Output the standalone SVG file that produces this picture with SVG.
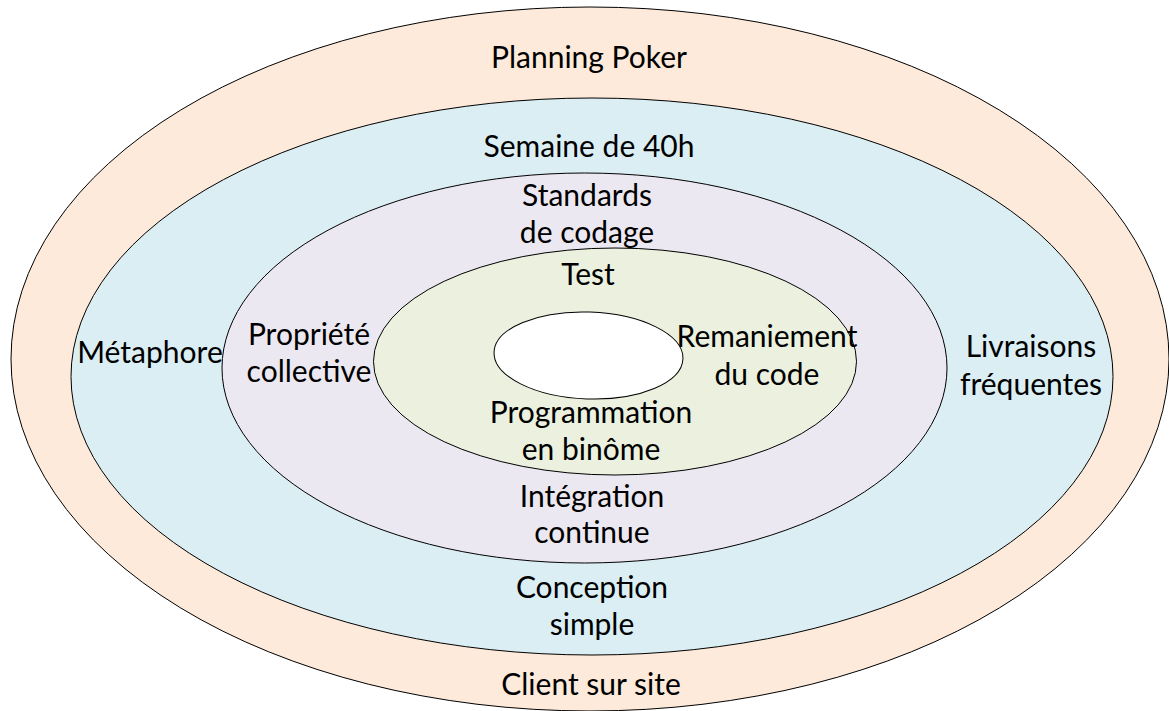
<svg xmlns="http://www.w3.org/2000/svg" width="1169" height="711" viewBox="0 0 1169 711">
  <style>
    .ring { stroke: #000; stroke-width: 1; }
    .lbl { font-family: Lato, "Open Sans", "Liberation Sans", sans-serif; font-size: 30px; fill: #000; text-anchor: middle; }
  </style>
  <rect width="1169" height="711" fill="#fff"/>

  <!-- concentric practice rings, outermost first -->
  <g id="ring-outer">
    <ellipse class="ring" cx="590" cy="359" rx="579" ry="352" fill="#FDEADA"/>
    <text class="lbl" x="589" y="68">Planning Poker</text>
    <text class="lbl" x="591" y="695">Client sur site</text>
  </g>

  <g id="ring-team">
    <ellipse class="ring" cx="592" cy="376.5" rx="521" ry="278.5" fill="#DAEEF3"/>
    <text class="lbl" x="589" y="157">Semaine de 40h</text>
    <text class="lbl" x="150" y="363">Métaphore</text>
    <text class="lbl" x="1031" y="357">Livraisons</text>
    <text class="lbl" x="1031" y="395">fréquentes</text>
    <text class="lbl" x="592" y="598">Conception</text>
    <text class="lbl" x="592" y="635">simple</text>
  </g>

  <g id="ring-code">
    <ellipse class="ring" cx="584.5" cy="368" rx="362.5" ry="195" fill="#ECE8F1"/>
    <text class="lbl" x="587" y="206">Standards</text>
    <text class="lbl" x="587" y="243">de codage</text>
    <text class="lbl" x="309" y="345">Propriété</text>
    <text class="lbl" x="309" y="382">collective</text>
    <text class="lbl" x="592" y="507">Intégration</text>
    <text class="lbl" x="592" y="543">continue</text>
  </g>

  <g id="ring-dev">
    <ellipse class="ring" cx="615" cy="361.5" rx="241.5" ry="113.5" fill="#EBF1DE"/>
    <text class="lbl" x="588" y="285">Test</text>
    <text class="lbl" x="767" y="347">Remaniement</text>
    <text class="lbl" x="767" y="385">du code</text>
    <text class="lbl" x="591" y="423">Programmation</text>
    <text class="lbl" x="591" y="460">en binôme</text>
  </g>

  <g id="core">
    <ellipse class="ring" cx="588.5" cy="355.5" rx="94.5" ry="43.5" fill="#fff" transform="rotate(2 588.5 355.5)"/>
  </g>

  <!-- no connectors in this figure -->
  <g id="connectors"/>
</svg>
